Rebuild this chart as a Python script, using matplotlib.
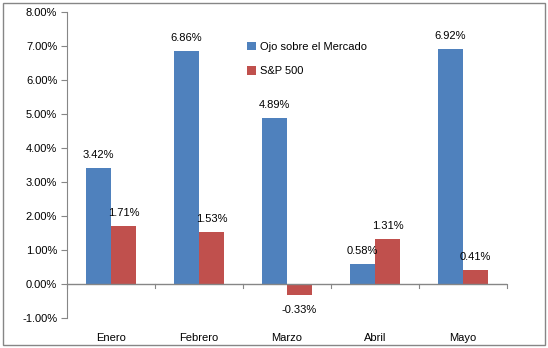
import numpy as np
import matplotlib
matplotlib.use("Agg")
from matplotlib import pyplot as plt
from matplotlib.patches import Rectangle

months = ["Enero", "Febrero", "Marzo", "Abril", "Mayo"]
ojo = [3.42, 6.86, 4.89, 0.58, 6.92]
sp500 = [1.71, 1.53, -0.33, 1.31, 0.41]
series_names = ["Ojo sobre el Mercado", "S&P 500"]

blue = "#4f81bd"
red = "#c0504d"
grey = "#868686"

plt.rcParams["font.family"] = ["Liberation Sans", "DejaVu Sans"]
plt.rcParams["font.size"] = 8

fig = plt.figure(figsize=(5.48, 3.48), dpi=100)
fig.patches.append(Rectangle((3 / 548, 3 / 348), 542 / 548, 342 / 348,
                             transform=fig.transFigure, fill=False,
                             edgecolor=grey, linewidth=1))
ax = fig.add_axes([67 / 548, 30 / 348, 440 / 548, 306 / 348])

x = np.arange(len(months))
w = 25 / 88
b1 = ax.bar(x - w / 2, ojo, w, color=blue, label=series_names[0])
b2 = ax.bar(x + w / 2, sp500, w, color=red, label=series_names[1])

for bars, vals in ((b1, ojo), (b2, sp500)):
    for r, v in zip(bars, vals):
        off = 9.5 if v >= 0 else -11
        ax.annotate(f"{v:.2f}%", (r.get_x() + r.get_width() / 2, v),
                    xytext=(0, off), textcoords="offset points",
                    ha="center", va="center", color="#000000")

ax.set_xlim(-0.5, len(months) - 0.5)
ax.set_ylim(-1, 8)
ax.set_yticks(np.arange(-1, 9, 1))
ax.set_yticklabels([f"{t:.2f}%" for t in np.arange(-1, 9, 1)])
ax.set_xticks(x)
ax.set_xticklabels(months)
ax.tick_params(axis="x", length=0, pad=10.5)
ax.tick_params(axis="y", length=4, color=grey, direction="out", pad=3)

for s in ("top", "right", "bottom"):
    ax.spines[s].set_visible(False)
ax.spines["left"].set_color(grey)
ax.axhline(0, color=grey, linewidth=1)
# category separators hang from the zero line
for xm in np.arange(-0.5, len(months), 1):
    ax.plot([xm, xm], [0, -0.12], color=grey, linewidth=0.8, clip_on=False)

ax.legend(loc="upper left", bbox_to_anchor=(0.40, 0.918), frameon=False,
          handlelength=0.8, handleheight=0.8, handletextpad=0.3,
          labelspacing=1.3, borderaxespad=0)

fig.savefig("out.png", dpi=100)
